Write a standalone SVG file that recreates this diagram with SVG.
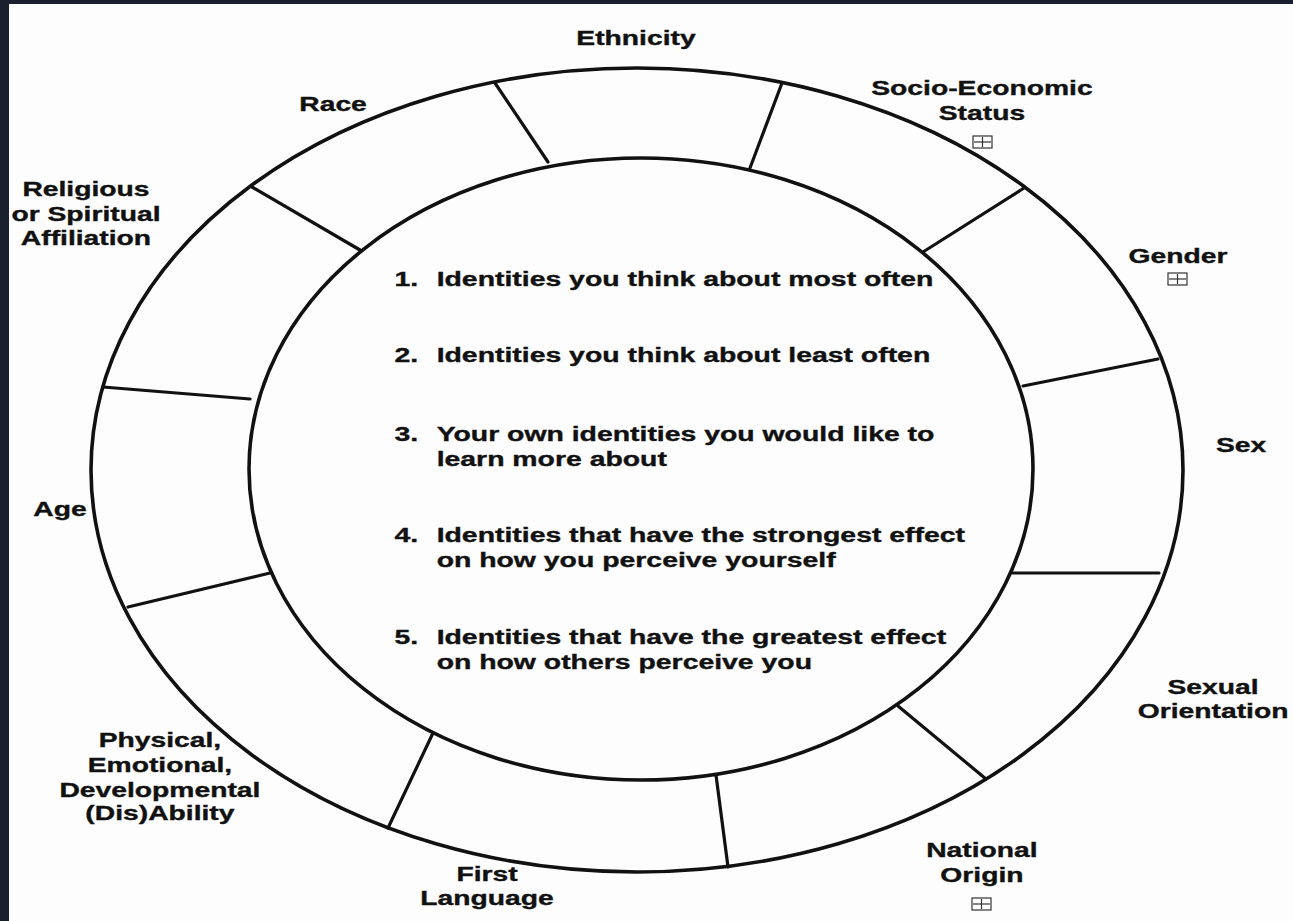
<svg xmlns="http://www.w3.org/2000/svg" width="1293" height="921" viewBox="0 0 1293 921">
<style>
.lbl{font-family:"Liberation Sans",Arial,Helvetica,sans-serif;font-weight:bold;font-size:19.5px;fill:#111;stroke:#111;stroke-width:0.35;text-anchor:middle}
.lst{font-family:"Liberation Sans",Arial,Helvetica,sans-serif;font-weight:bold;font-size:20px;fill:#111;stroke:#111;stroke-width:0.35}
.ring{fill:none;stroke:#111;stroke-width:3.6}
.div{stroke:#111;stroke-width:3.2;stroke-linecap:round}
.box{fill:#fff;stroke:#333;stroke-width:1.2}
.plus{stroke:#333;stroke-width:1.2}
</style>
<rect x="0" y="0" width="1293" height="921" fill="#1b202e"/>
<rect x="9" y="4" width="1284" height="917" fill="#fdfdfd"/>
<g id="wheel">
<ellipse class="ring" cx="637" cy="470" rx="546" ry="402"/>
<ellipse class="ring" cx="641" cy="469" rx="392" ry="311"/>
</g>
<g id="connectors">
<line class="div" x1="495" y1="83" x2="548" y2="162"/>
<line class="div" x1="782" y1="83" x2="750" y2="168"/>
<line class="div" x1="1024" y1="188" x2="923" y2="252"/>
<line class="div" x1="1158" y1="359" x2="1023" y2="386"/>
<line class="div" x1="1159" y1="573" x2="1013" y2="573"/>
<line class="div" x1="986" y1="779" x2="898" y2="706"/>
<line class="div" x1="728" y1="867" x2="716" y2="775"/>
<line class="div" x1="388" y1="828" x2="433" y2="733"/>
<line class="div" x1="128" y1="607" x2="270" y2="573"/>
<line class="div" x1="103" y1="387" x2="250" y2="399"/>
<line class="div" x1="252" y1="187" x2="360" y2="250"/>
</g>
<g id="labels" transform="scale(1.45,1)">
<g id="ethnicity"><text class="lbl" x="438.6" y="45">Ethnicity</text></g>
<g id="ses"><text class="lbl" x="677.2" y="95">Socio-Economic</text><text class="lbl" x="677.2" y="120">Status</text></g>
<g id="race"><text class="lbl" x="229.7" y="111">Race</text></g>
<g id="religious"><text class="lbl" x="59.3" y="196">Religious</text><text class="lbl" x="59.3" y="221">or Spiritual</text><text class="lbl" x="59.3" y="245">Affiliation</text></g>
<g id="gender"><text class="lbl" x="812.4" y="263">Gender</text></g>
<g id="sex"><text class="lbl" x="855.9" y="452">Sex</text></g>
<g id="age"><text class="lbl" x="41.4" y="516">Age</text></g>
<g id="sexual-orientation"><text class="lbl" x="836.6" y="694">Sexual</text><text class="lbl" x="836.6" y="718">Orientation</text></g>
<g id="ability"><text class="lbl" x="110.3" y="747">Physical,</text><text class="lbl" x="110.3" y="772">Emotional,</text><text class="lbl" x="110.3" y="797">Developmental</text><text class="lbl" x="110.3" y="820">(Dis)Ability</text></g>
<g id="first-language"><text class="lbl" x="335.9" y="881">First</text><text class="lbl" x="335.9" y="905">Language</text></g>
<g id="national-origin"><text class="lbl" x="677.2" y="857">National</text><text class="lbl" x="677.2" y="882">Origin</text></g>
</g>
<g id="boxes">
<rect class="box" x="973" y="136" width="19" height="12"/><line class="plus" x1="982.5" y1="137" x2="982.5" y2="147"/><line class="plus" x1="974" y1="142" x2="991" y2="142"/>
<rect class="box" x="1168" y="273" width="19" height="12"/><line class="plus" x1="1177.5" y1="274" x2="1177.5" y2="284"/><line class="plus" x1="1169" y1="279" x2="1186" y2="279"/>
<rect class="box" x="972" y="898" width="19" height="12"/><line class="plus" x1="981.5" y1="899" x2="981.5" y2="909"/><line class="plus" x1="973" y1="904" x2="990" y2="904"/>
</g>
<g id="list" transform="scale(1.42,1)">
<text class="lst" x="277.8" y="286">1.</text><text class="lst" x="307.5" y="286">Identities you think about most often</text>
<text class="lst" x="277.8" y="362">2.</text><text class="lst" x="307.5" y="362">Identities you think about least often</text>
<text class="lst" x="277.8" y="441">3.</text><text class="lst" x="307.5" y="441">Your own identities you would like to</text>
<text class="lst" x="307.5" y="466">learn more about</text>
<text class="lst" x="277.8" y="542">4.</text><text class="lst" x="307.5" y="542">Identities that have the strongest effect</text>
<text class="lst" x="307.5" y="567">on how you perceive yourself</text>
<text class="lst" x="277.8" y="644">5.</text><text class="lst" x="307.5" y="644">Identities that have the greatest effect</text>
<text class="lst" x="307.5" y="669">on how others perceive you</text>
</g>
</svg>
